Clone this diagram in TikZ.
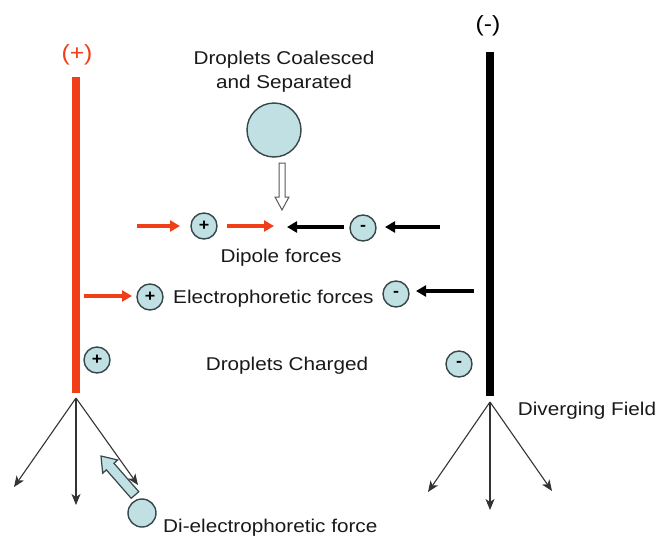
\documentclass[tikz,border=0pt]{standalone}
\usepackage{fontspec}
\setmainfont{Liberation Sans}[FakeStretch=1.12]
\usetikzlibrary{arrows.meta}
\definecolor{posred}{RGB}{240,62,24}
\definecolor{drop}{RGB}{192,224,228}
\definecolor{dropedge}{RGB}{55,70,72}
\tikzset{
  lbl/.style={font=\fontsize{18.5}{24}\selectfont, inner sep=0pt, text=black!90},
  pole/.style={font=\fontsize{22}{24}\selectfont, inner sep=0pt},
  chg/.style={circle, draw=dropedge, fill=drop, line width=1.4pt, minimum size=26pt, inner sep=0pt, font=\fontsize{16}{16}\selectfont\bfseries},
  thin arrow/.style={line width=1.1pt, draw=black!80, -{Stealth[length=11pt,width=9pt,inset=3pt]}},
  red arrow/.style={line width=4pt, draw=posred, -{Triangle[length=10pt,width=11pt]}},
  blk arrow/.style={line width=4pt, draw=black, -{Triangle[length=10pt,width=11pt]}},
}
\begin{document}
\begin{tikzpicture}[x=1pt,y=-1pt]
\useasboundingbox (0,0) rectangle (656,541);
% electrodes
\node[pole, text=posred] (plus) at (77,55) {(+)};
\node[pole] (minus) at (488,26) {(-)};
\coordinate (rt) at (76,77); \coordinate (rb) at (76,393);
\coordinate (bt) at (490,52); \coordinate (bb) at (490,396);
\draw[line width=8pt, posred] (rt) -- (rb);
\draw[line width=8pt, black] (bt) -- (bb);
% diverging fields
\coordinate (rd) at (76,398);
\coordinate (rd1) at (14,487); \coordinate (rd2) at (76,505); \coordinate (rd3) at (138,485);
\draw[thin arrow] (rd) -- (rd1);
\draw[thin arrow] (rd) -- (rd2);
\draw[thin arrow] (rd) -- (rd3);
\coordinate (bd) at (490,402);
\coordinate (bd1) at (428,492); \coordinate (bd2) at (490,510); \coordinate (bd3) at (552,491);
\draw[thin arrow] (bd) -- (bd1);
\draw[thin arrow] (bd) -- (bd2);
\draw[thin arrow] (bd) -- (bd3);
\node[lbl] (div) at (587,411) {Diverging Field};
% coalesced droplet
\node[lbl, align=center] (coal) at (284,72) {Droplets Coalesced\\and Separated};
\node[circle, draw=dropedge, fill=drop, line width=1.4pt, minimum size=54pt, inner sep=0pt] (big) at (274,130) {};
\draw[line width=1pt, draw=black!65, fill=white] (279,163) -- (279,197) -- (275,197) -- (282,210) -- (289,197) -- (285,197) -- (285,163) -- cycle;
% dipole row
\node[chg] (dp) at (204,226) {+};
\node[chg] (dn) at (363,228) {-};
\coordinate (dpa) at (137,226); \coordinate (dpb) at (180,226);
\coordinate (dpc) at (227,226); \coordinate (dpd) at (274,226);
\coordinate (dna) at (344,227); \coordinate (dnb) at (287,227);
\coordinate (dnc) at (440,227); \coordinate (dnd) at (385,227);
\draw[red arrow] (dpa) -- (dpb);
\draw[red arrow] (dpc) -- (dpd);
\draw[blk arrow] (dna) -- (dnb);
\draw[blk arrow] (dnc) -- (dnd);
\node[lbl] (dip) at (281,258) {Dipole forces};
% electrophoretic row
\node[chg] (ep) at (150,297) {+};
\node[chg] (en) at (396,294) {-};
\coordinate (epa) at (84,296); \coordinate (epb) at (132,296);
\coordinate (ena) at (474,291); \coordinate (enb) at (416,291);
\draw[red arrow] (epa) -- (epb);
\draw[blk arrow] (ena) -- (enb);
\node[lbl, anchor=west] (elec) at (173,299) {Electrophoretic forces};
% charged row
\node[chg] (cp) at (97,360) {+};
\node[chg] (cn) at (459,364) {-};
\node[lbl] (chgd) at (287,366) {Droplets Charged};
% di-electrophoretic
\draw[line width=1.2pt, draw=dropedge, fill=drop] (138.8,491.7) -- (114.0,463.3) -- (117.7,460.0) -- (101,456) -- (102.7,473.2) -- (106.4,469.9) -- (131.2,498.3) -- cycle;
\node[circle, draw=dropedge, fill=drop, line width=1.4pt, minimum size=28pt, inner sep=0pt] (dc) at (142,513) {};
\node[lbl, anchor=west] (die) at (163,528) {Di-electrophoretic force};
\end{tikzpicture}
\end{document}
